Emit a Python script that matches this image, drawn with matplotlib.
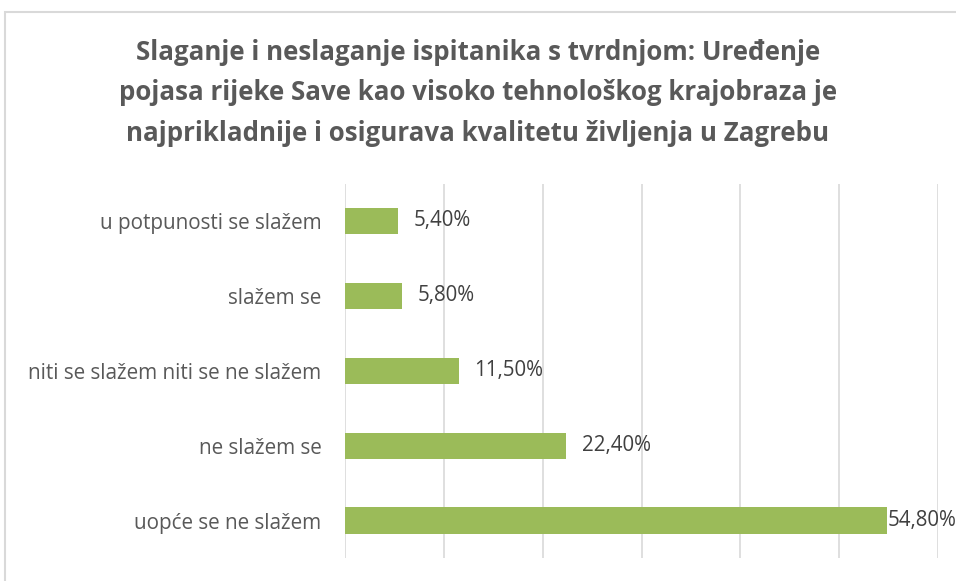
import matplotlib.pyplot as plt
from matplotlib.patches import Rectangle

# data (top to bottom as shown)
categories = ['u potpunosti se slažem', 'slažem se', 'niti se slažem niti se ne slažem',
              'ne slažem se', 'uopće se ne slažem']
values = [5.4, 5.8, 11.5, 22.4, 54.8]
value_labels = ['5,40%', '5,80%', '11,50%', '22,40%', '54,80%']
title = ('Slaganje i neslaganje ispitanika s tvrdnjom: Uređenje\n'
         'pojasa rijeke Save kao visoko tehnološkog krajobraza je\n'
         'najprikladnije i osigurava kvalitetu življenja u Zagrebu')

plt.rcParams['font.family'] = ['Open Sans', 'DejaVu Sans']

W, H = 956, 581
fig = plt.figure(figsize=(W / 100, H / 100), dpi=100)
ax = fig.add_axes([345 / W, 1 - 558 / H, (938 - 345) / W, (558 - 183.5) / H])

ypos = list(range(len(categories)))
ax.barh(ypos, values, height=0.35, color='#9BBB59', zorder=3)
ax.set_ylim(len(categories) - 0.5, -0.5)
ax.set_xlim(0, 60)
ax.set_xticks(range(0, 61, 10))
ax.xaxis.grid(True, color='#D9D9D9', linewidth=1.2, zorder=0)
ax.tick_params(axis='x', length=0, labelbottom=False)
ax.tick_params(axis='y', length=0, pad=17)
ax.set_yticks(ypos)
ax.set_yticklabels(categories, fontsize=14.9, color='#595959')
for s in ax.spines.values():
    s.set_visible(False)

for y, v, lab in zip(ypos, values, value_labels):
    off = 11 if v < 50 else 0.5
    ax.annotate(lab, (v, y), xytext=(off, 0), textcoords='offset points',
                va='center', ha='left', fontsize=14.8, color='#404040', zorder=4,
                annotation_clip=False)

fig.text(0.5, 1 - 93 / H, title, ha='center', va='center', fontsize=18.6,
         fontweight='bold', color='#595959', linespacing=1.64)

fig.patches.append(Rectangle((5 / W, -0.05), 1.0, 1.05 - 12 / H, transform=fig.transFigure,
                             fill=False, edgecolor='#D9D9D9', linewidth=1.5))

fig.savefig('out.png', dpi=100)
